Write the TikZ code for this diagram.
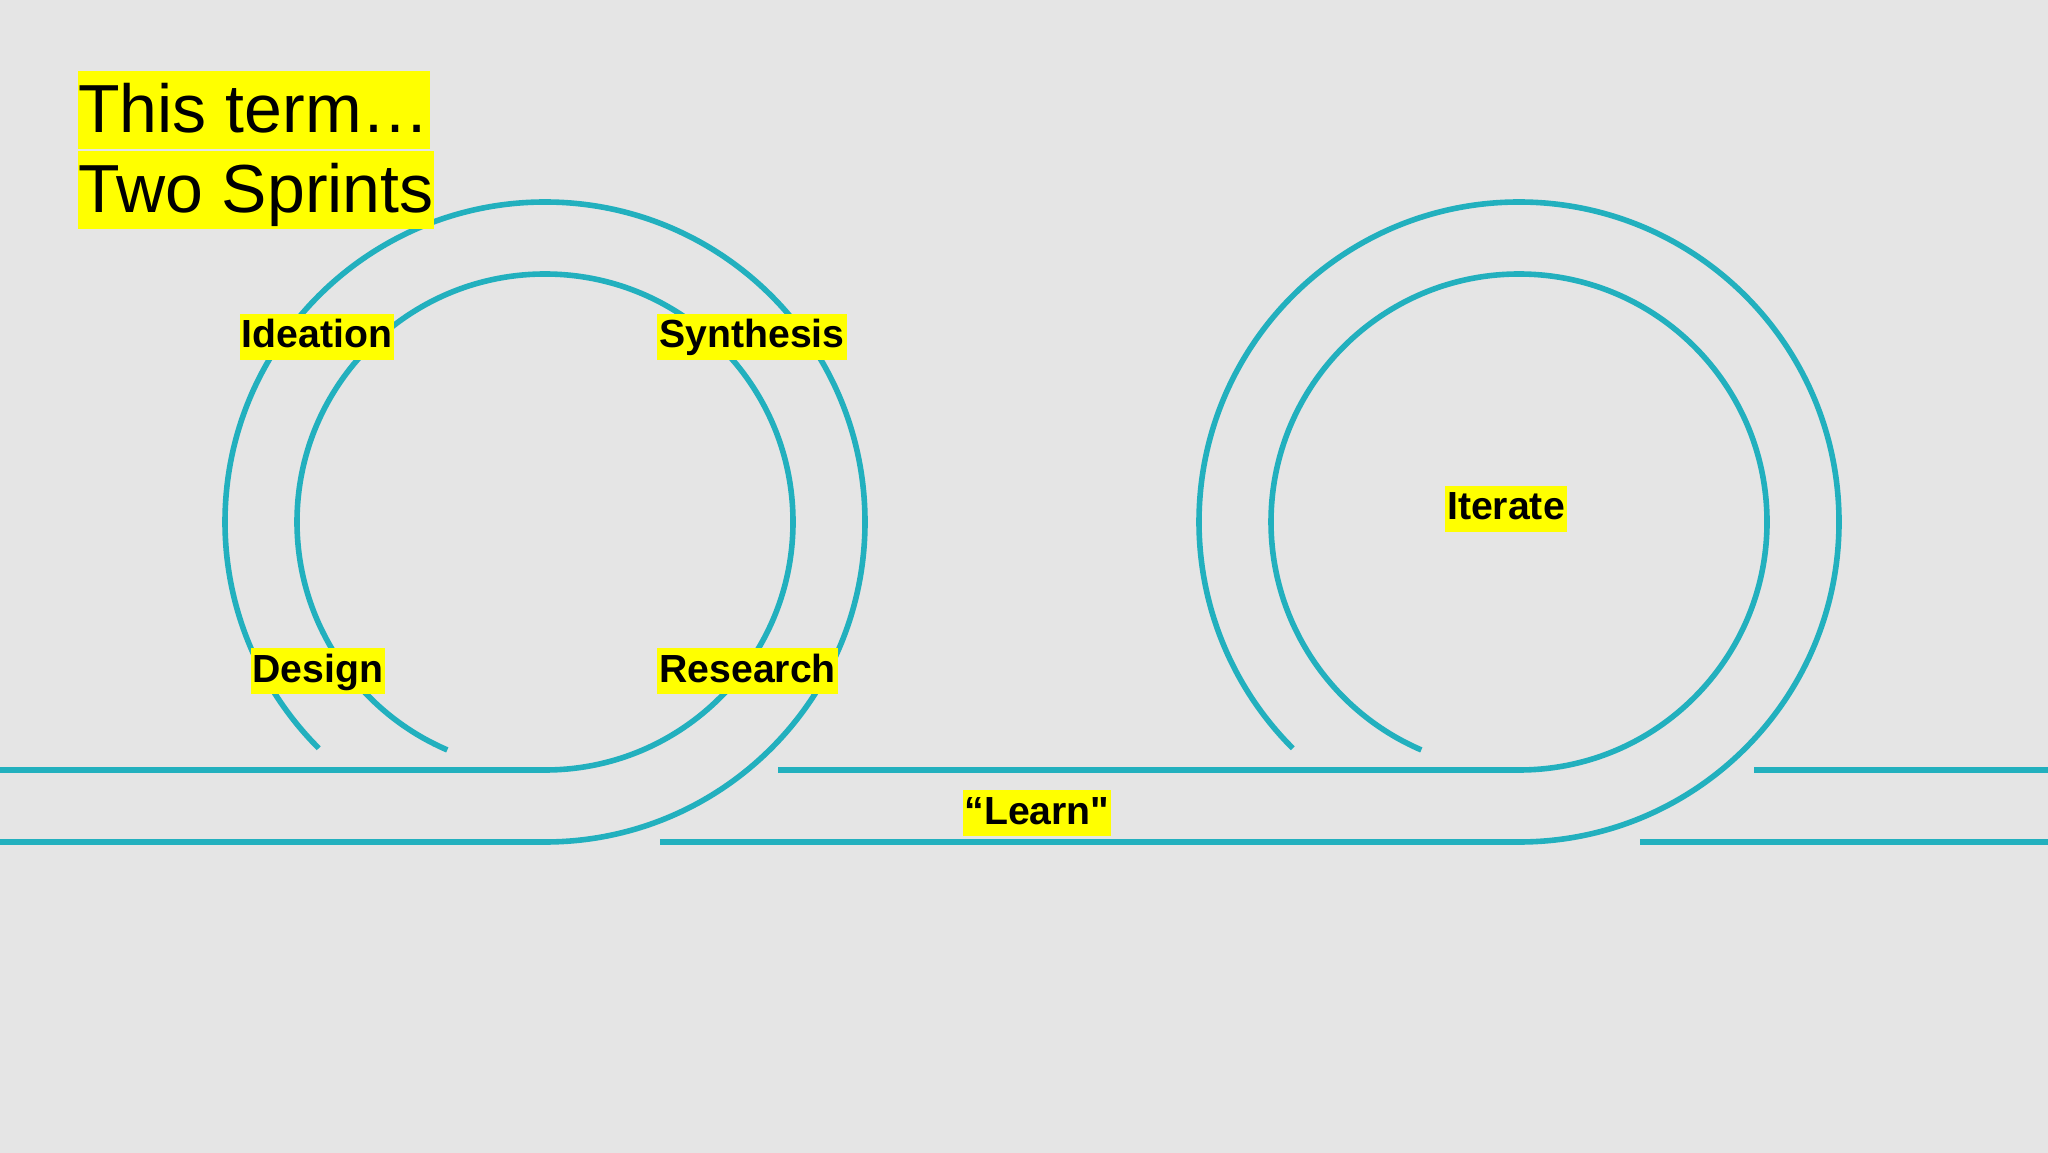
\documentclass[tikz,border=0pt]{standalone}
\usepackage{fontspec}
\setmainfont{Liberation Sans}[Ligatures=TeXOff]
\definecolor{track}{RGB}{34,176,190}
\definecolor{slidegray}{RGB}{229,229,229}
\definecolor{marker}{RGB}{255,255,0}

\begin{document}
\begin{tikzpicture}[x=0.5pt,y=0.5pt,
  rail/.style={line width=2.8pt, draw=track},
  tag/.style={fill=marker, inner xsep=1pt, inner ysep=0pt,
    text height=17pt, text depth=6pt,
    font=\fontsize{19.6}{23}\selectfont\bfseries},
  headline/.style={fill=marker, inner sep=0pt,
    text height=31pt, text depth=8pt,
    font=\fontsize{34}{40}\selectfont}]

\useasboundingbox (0,0) rectangle (2048,1152);
\fill [slidegray] (-2,-2) rectangle (2050,1154);

\coordinate (loopA) at (545,630);
\coordinate (loopB) at (1519,630);


% first sprint
\draw [rail] (-5,382)--(545,382)
  arc [start angle=-90, end angle=246.8, radius=248];
\draw [rail] (-5,310)--(545,310)
  arc [start angle=-90, end angle=225, radius=320];


% second sprint
\draw [rail] (778,382)--(1519,382)
  arc [start angle=-90, end angle=246.8, radius=248];
\draw [rail] (660,310)--(1519,310)
  arc [start angle=-90, end angle=225, radius=320];


% track leaving to the right
\draw [rail] (1754,382)--(2055,382);
\draw [rail] (1640,310)--(2055,310);


\node [headline, anchor=base west] (term) at (78,1019) {This term…};
\node [headline, anchor=base west] (sprints) at (78,939) {Two Sprints};


\node [tag, anchor=base] (ideation) at (317,804) {Ideation};
\node [tag, anchor=base west] (synthesis) at (657,804) {Synthesis};
\node [tag, anchor=base] (design) at (318,470) {Design};
\node [tag, anchor=base west] (research) at (657,470) {Research};

\node [tag, anchor=base] (iterate) at (1506,632) {Iterate};
\node [tag, anchor=base] (learn) at (1037,328) {“Learn"};

\end{tikzpicture}
\end{document}
